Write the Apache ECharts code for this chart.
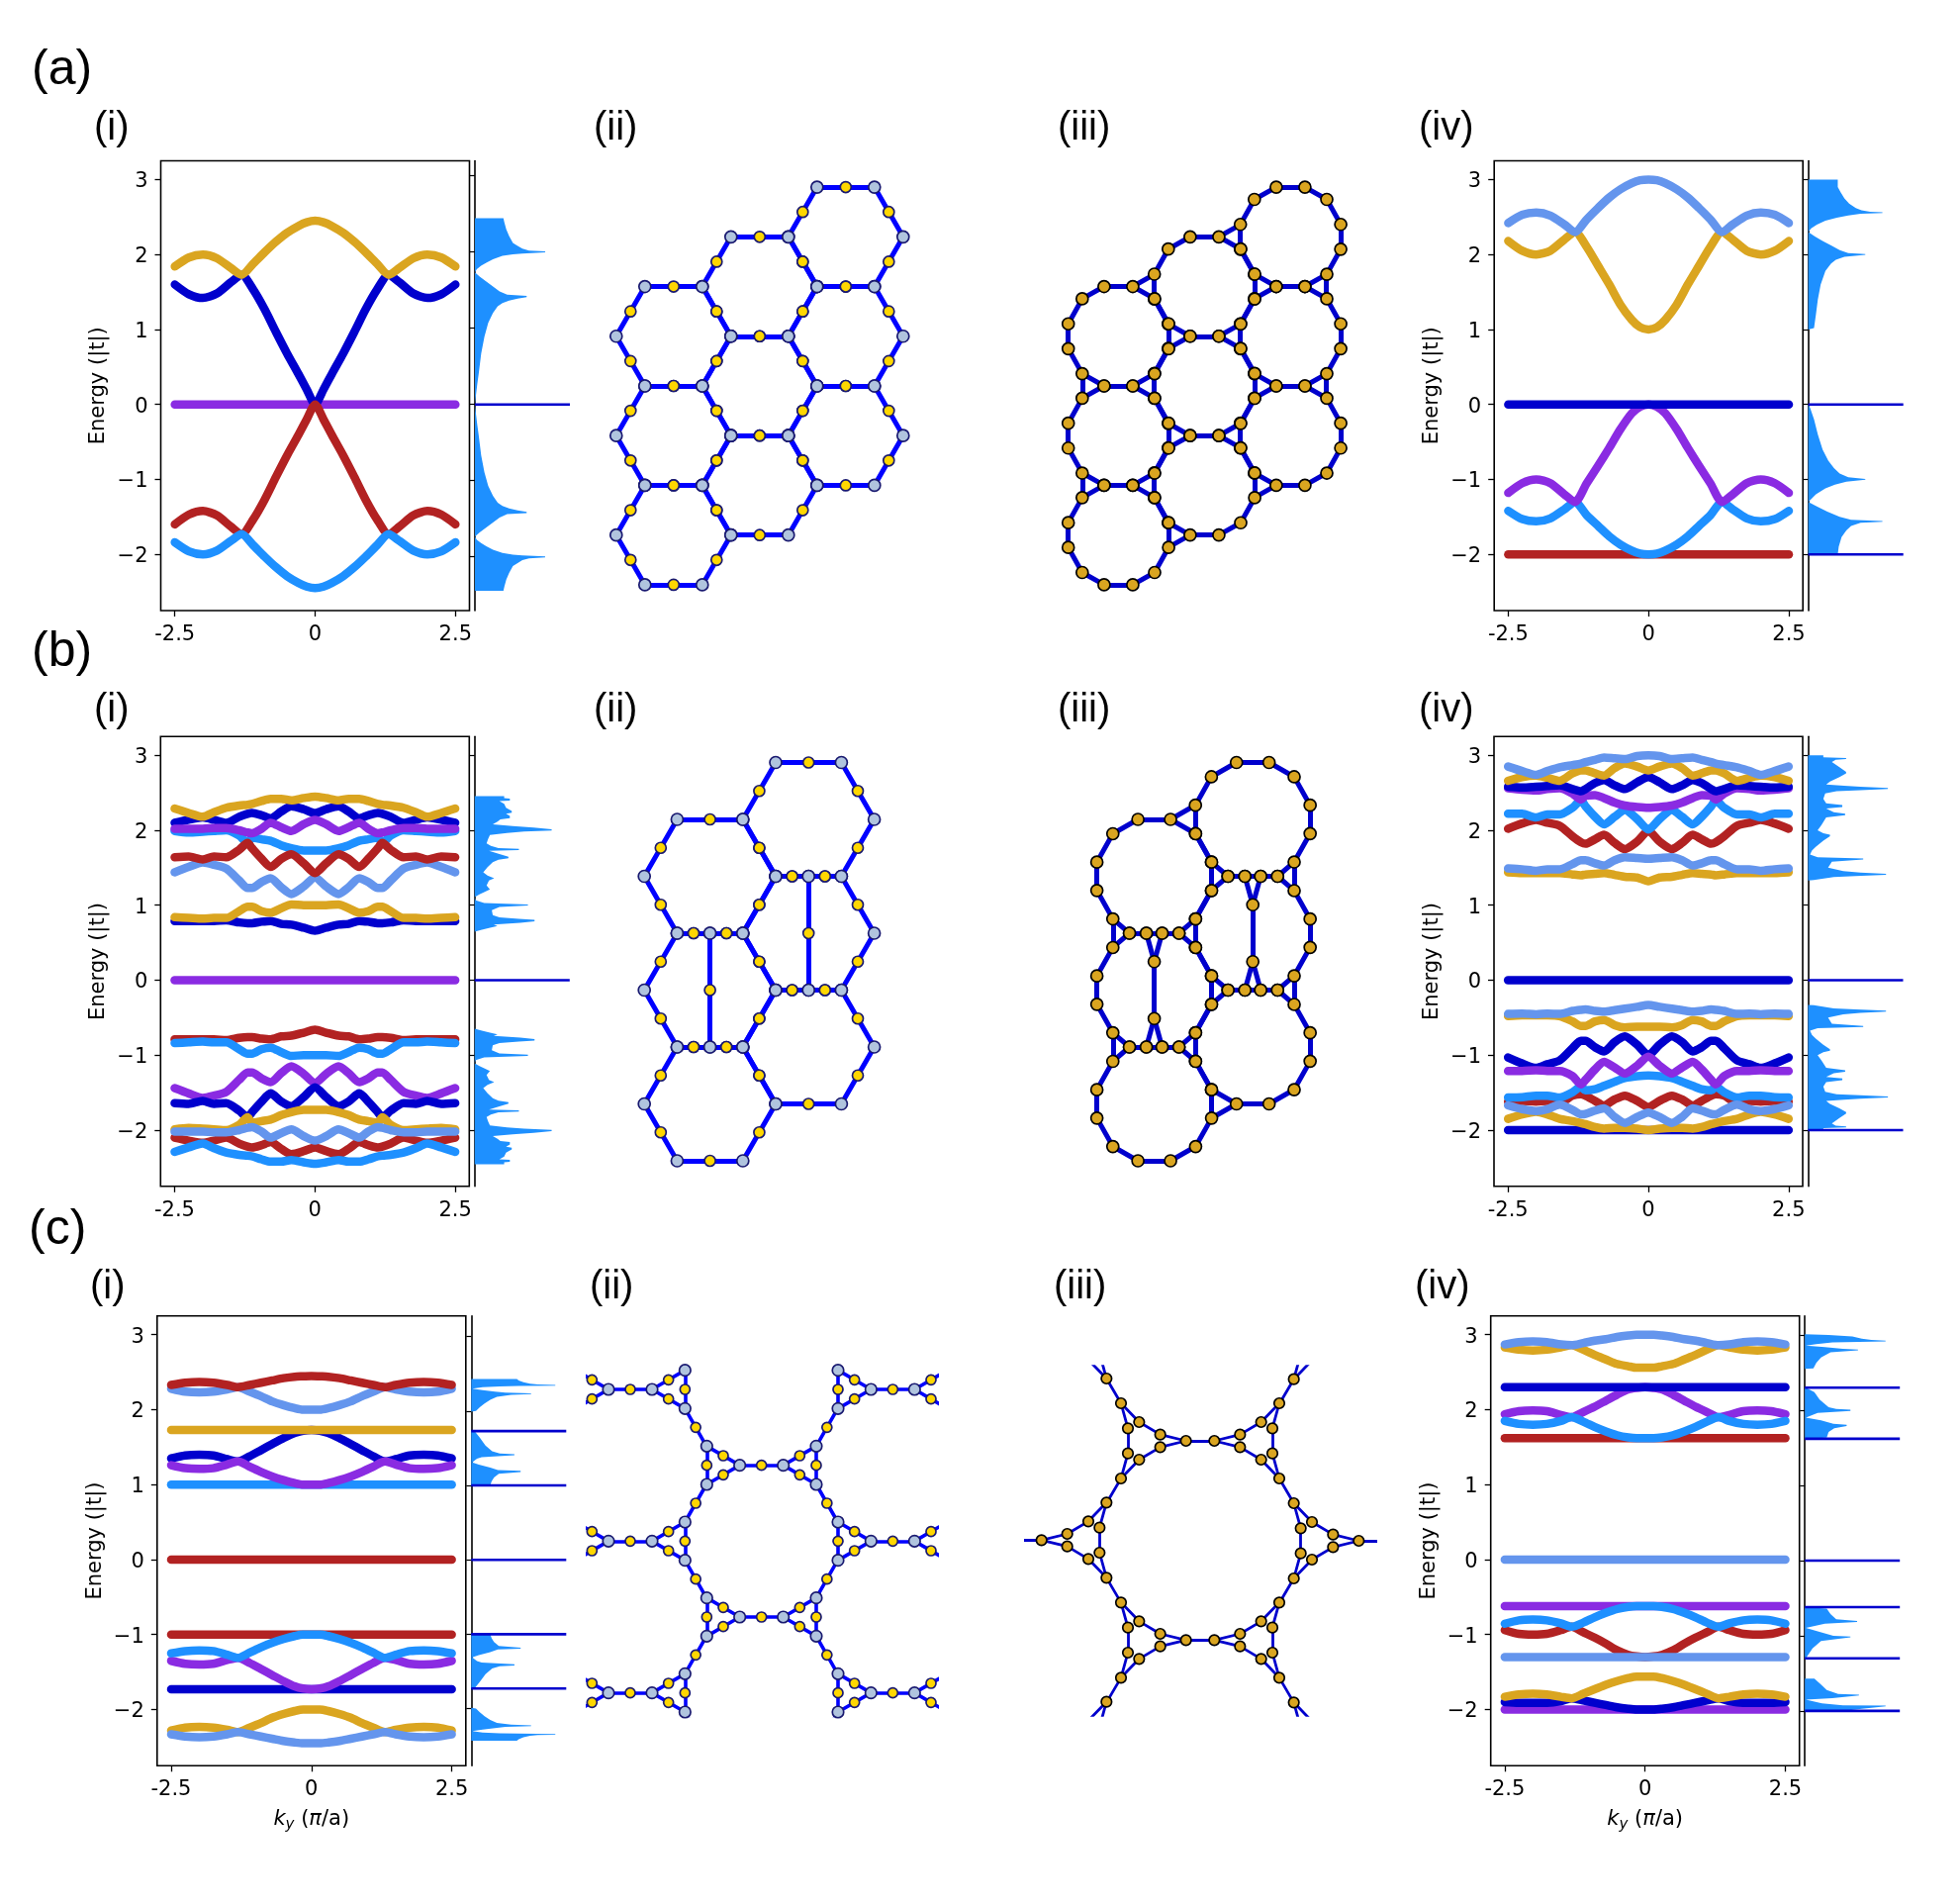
<!DOCTYPE html>
<html>
<head>
<meta charset="utf-8">
<title>Band structures and lattices</title>
<script src="https://cdn.jsdelivr.net/npm/echarts@6/dist/echarts.min.js"></script>
<style>
  html, body { margin: 0; background: #fff; }
  #chart { width: 1981px; height: 1924px; }
</style>
</head>
<body>
<div id="chart"></div>
<script>
// 坐标刻度
var kTicks = [-2.5, 0, 2.5];
var energyTicks = [-2, -1, 0, 1, 2, 3];

// k 取样点
var kFlat = [-2.5, 2.5];
var kA = [-2.5,-2.25,-2,-1.75,-1.5,-1.31,-1.1,-.9,-.7,-.5,-.3,-.15,0,.15,.3,.5,.7,.9,1.1,1.31,1.5,1.75,2,2.25,2.5];
var kB = [-2.5,-2.25,-2,-1.8,-1.58,-1.35,-1.2,-1.12,-.95,-.79,-.6,-.42,-.2,0,.2,.42,.6,.79,.95,1.12,1.2,1.35,1.58,1.8,2,2.25,2.5];

// 能带图的能量范围，部分态密度轴略有不同
var energyRange = [-2.75, 3.25];
var dosRangeAi = [-2.705, 3.198];
var dosRangeCi = [-2.767, 3.276];
var dosRangeCiv = [-2.729, 3.253];

// (a)(i)
var aiGold = [1.84,1.96,2,1.95,1.82,1.73,1.88,2.03,2.17,2.29,2.38,2.43,2.45,2.43,2.38,2.29,2.17,2.03,1.88,1.73,1.82,1.95,2,1.96,1.84];
var aiBlue = [1.6,1.47,1.42,1.48,1.63,1.73,1.53,1.27,.97,.68,.41,.2,0,.2,.41,.68,.97,1.27,1.53,1.73,1.63,1.48,1.42,1.47,1.6];
var aiPurple = [0, 0];
var aiRed = [-1.6,-1.47,-1.42,-1.48,-1.63,-1.73,-1.53,-1.27,-.97,-.68,-.41,-.2,0,-.2,-.41,-.68,-.97,-1.27,-1.53,-1.73,-1.63,-1.48,-1.42,-1.47,-1.6];
var aiDodger = [-1.84,-1.96,-2,-1.95,-1.82,-1.73,-1.88,-2.03,-2.17,-2.29,-2.38,-2.43,-2.45,-2.43,-2.38,-2.29,-2.17,-2.03,-1.88,-1.73,-1.82,-1.95,-2,-1.96,-1.84];
var aiDos = [[0,2.445],[.3,2.445],[.31,2.39],[.33,2.3],[.36,2.21],[.4,2.12],[.45,2.08],[.5,2.044],[.57,2.02],[.74,2.008],[.74,1.995],[.5,1.98],[.4,1.97],[.29,1.95],[.19,1.905],[.12,1.86],[.065,1.82],[.02,1.775],[0,1.735],[.05,1.68],[.12,1.615],[.19,1.55],[.26,1.485],[.34,1.44],[.545,1.425],[.545,1.41],[.45,1.39],[.36,1.365],[.29,1.33],[.24,1.29],[.19,1.2],[.14,1.07],[.1,.89],[.066,.67],[.04,.405],[.025,.27],[0,.01],[0,-.01],[.025,-.27],[.04,-.405],[.066,-.67],[.1,-.89],[.14,-1.07],[.19,-1.2],[.24,-1.29],[.29,-1.33],[.36,-1.365],[.45,-1.39],[.545,-1.41],[.545,-1.425],[.34,-1.44],[.26,-1.485],[.19,-1.55],[.12,-1.615],[.05,-1.68],[0,-1.735],[.02,-1.775],[.065,-1.82],[.12,-1.86],[.19,-1.905],[.29,-1.95],[.4,-1.97],[.5,-1.98],[.74,-1.995],[.74,-2.008],[.57,-2.02],[.5,-2.044],[.45,-2.08],[.4,-2.12],[.36,-2.21],[.33,-2.3],[.31,-2.39],[.3,-2.445],[0,-2.445]];
var aiFlat = [0];

// (a)(iv)
var aivCorn = [2.42,2.53,2.56,2.52,2.4,2.3,2.47,2.62,2.76,2.87,2.95,2.99,3,2.99,2.95,2.87,2.76,2.62,2.47,2.3,2.4,2.52,2.56,2.53,2.42];
var aivGold = [2.18,2.05,2,2.05,2.2,2.3,2.1,1.85,1.6,1.33,1.13,1.03,1,1.03,1.13,1.33,1.6,1.85,2.1,2.3,2.2,2.05,2,2.05,2.18];
var aivBlue = [0, 0];
var aivPurple = [-1.18,-1.05,-1,-1.05,-1.2,-1.3,-1.05,-.82,-.58,-.33,-.12,-.03,0,-.03,-.12,-.33,-.58,-.82,-1.05,-1.3,-1.2,-1.05,-1,-1.05,-1.18];
var aivDodger = [-1.42,-1.53,-1.56,-1.52,-1.4,-1.3,-1.48,-1.62,-1.76,-1.87,-1.95,-1.99,-2,-1.99,-1.95,-1.87,-1.76,-1.62,-1.48,-1.3,-1.4,-1.52,-1.56,-1.53,-1.42];
var aivRed = [-2, -2];
var aivDos = [[0,3],[.31,3],[.31,2.9],[.34,2.83],[.38,2.75],[.43,2.68],[.5,2.62],[.56,2.59],[.65,2.57],[.78,2.565],[.78,2.555],[.55,2.545],[.42,2.52],[.3,2.49],[.18,2.45],[.09,2.4],[.03,2.35],[0,2.3],[.07,2.24],[.15,2.18],[.24,2.12],[.33,2.06],[.42,2.02],[.6,2.005],[.6,1.995],[.38,1.97],[.29,1.93],[.24,1.88],[.18,1.78],[.13,1.6],[.1,1.4],[.08,1.2],[.06,1.02],[0,1],[0,0],[.02,-.05],[.06,-.2],[.1,-.4],[.15,-.6],[.21,-.75],[.27,-.85],[.33,-.92],[.42,-.97],[.6,-.995],[.6,-1.005],[.4,-1.03],[.28,-1.07],[.18,-1.12],[.08,-1.2],[0,-1.3],[.09,-1.36],[.2,-1.43],[.33,-1.5],[.45,-1.54],[.78,-1.555],[.78,-1.565],[.55,-1.58],[.45,-1.62],[.4,-1.68],[.35,-1.77],[.32,-1.9],[.31,-2],[0,-2]];
var aivFlat = [0, -2];

// (b)(i)
var biGoldU = [2.29,2.23,2.18,2.24,2.3,2.33,2.34,2.35,2.39,2.42,2.42,2.4,2.43,2.45,2.43,2.4,2.42,2.42,2.39,2.35,2.34,2.33,2.3,2.24,2.18,2.23,2.29];
var biBlueU = [2.1,2.14,2.17,2.14,2.1,2.18,2.22,2.23,2.2,2.16,2.25,2.32,2.28,2.23,2.28,2.32,2.25,2.16,2.2,2.23,2.22,2.18,2.1,2.14,2.17,2.14,2.1];
var biPurpleU = [2.02,2.02,2.02,2.03,2.03,2,1.97,1.96,2.02,2.1,2.04,1.99,2.08,2.14,2.08,1.99,2.04,2.1,2.02,1.96,1.97,2,2.03,2.03,2.02,2.02,2.02];
var biDodgerU = [1.99,1.97,1.98,1.99,2,1.93,1.83,1.9,1.88,1.86,1.8,1.76,1.73,1.73,1.73,1.76,1.8,1.86,1.88,1.9,1.83,1.93,2,1.99,1.98,1.97,1.99];
var biRedU = [1.64,1.65,1.61,1.65,1.64,1.74,1.83,1.76,1.62,1.51,1.62,1.68,1.56,1.43,1.56,1.68,1.62,1.51,1.62,1.76,1.83,1.74,1.64,1.65,1.61,1.65,1.64];
var biCornU = [1.44,1.51,1.57,1.54,1.49,1.33,1.23,1.23,1.31,1.36,1.24,1.15,1.25,1.37,1.25,1.15,1.24,1.36,1.31,1.23,1.23,1.33,1.49,1.54,1.57,1.51,1.44];
var biGoldM = [.84,.83,.82,.83,.83,.92,.98,.98,.92,.9,.96,1.01,1,1,1,1.01,.96,.9,.92,.98,.98,.92,.83,.83,.82,.83,.84];
var biBlueM = [.79,.79,.79,.79,.8,.77,.76,.76,.78,.79,.75,.74,.7,.66,.7,.74,.75,.79,.78,.76,.76,.77,.8,.79,.79,.79,.79];
var biPurple0 = [0, 0];
var biRedL = [-.79,-.79,-.79,-.79,-.8,-.77,-.76,-.76,-.78,-.79,-.75,-.74,-.7,-.66,-.7,-.74,-.75,-.79,-.78,-.76,-.76,-.77,-.8,-.79,-.79,-.79,-.79];
var biDodgerL = [-.84,-.83,-.82,-.83,-.83,-.92,-.98,-.98,-.92,-.9,-.96,-1.01,-1,-1,-1,-1.01,-.96,-.9,-.92,-.98,-.98,-.92,-.83,-.83,-.82,-.83,-.84];
var biPurpleL = [-1.44,-1.51,-1.57,-1.54,-1.49,-1.33,-1.23,-1.23,-1.31,-1.36,-1.24,-1.15,-1.25,-1.37,-1.25,-1.15,-1.24,-1.36,-1.31,-1.23,-1.23,-1.33,-1.49,-1.54,-1.57,-1.51,-1.44];
var biBlueL = [-1.64,-1.65,-1.61,-1.65,-1.64,-1.74,-1.83,-1.76,-1.62,-1.51,-1.62,-1.68,-1.56,-1.43,-1.56,-1.68,-1.62,-1.51,-1.62,-1.76,-1.83,-1.74,-1.64,-1.65,-1.61,-1.65,-1.64];
var biGoldL = [-1.99,-1.97,-1.98,-1.99,-2,-1.93,-1.83,-1.9,-1.88,-1.86,-1.8,-1.76,-1.73,-1.73,-1.73,-1.76,-1.8,-1.86,-1.88,-1.9,-1.83,-1.93,-2,-1.99,-1.98,-1.97,-1.99];
var biCornL = [-2.02,-2.02,-2.02,-2.03,-2.03,-2,-1.97,-1.96,-2.02,-2.1,-2.04,-1.99,-2.08,-2.14,-2.08,-1.99,-2.04,-2.1,-2.02,-1.96,-1.97,-2,-2.03,-2.03,-2.02,-2.02,-2.02];
var biRedB = [-2.1,-2.14,-2.17,-2.14,-2.1,-2.18,-2.22,-2.23,-2.2,-2.16,-2.25,-2.32,-2.28,-2.23,-2.28,-2.32,-2.25,-2.16,-2.2,-2.23,-2.22,-2.18,-2.1,-2.14,-2.17,-2.14,-2.1];
var biDodgerB = [-2.29,-2.23,-2.18,-2.24,-2.3,-2.33,-2.34,-2.35,-2.39,-2.42,-2.42,-2.4,-2.43,-2.45,-2.43,-2.4,-2.42,-2.42,-2.39,-2.35,-2.34,-2.33,-2.3,-2.24,-2.18,-2.23,-2.29];
var biDos = [[0,2.454],[.31,2.454],[.31,2.43],[.37,2.423],[.37,2.396],[.26,2.388],[.31,2.352],[.33,2.3],[.39,2.256],[.39,2.233],[.33,2.22],[.37,2.19],[.37,2.16],[.27,2.145],[.24,2.115],[.19,2.08],[.4,2.057],[.62,2.035],[.81,2.012],[.81,1.996],[.52,1.982],[.34,1.965],[.16,1.938],[.14,1.881],[.125,1.824],[.17,1.793],[.25,1.762],[.465,1.752],[.465,1.736],[.15,1.727],[.26,1.683],[.355,1.648],[.355,1.626],[.25,1.608],[.19,1.573],[.135,1.507],[.09,1.44],[.135,1.396],[.205,1.361],[.15,1.33],[.125,1.264],[.16,1.211],[.1,1.176],[.05,1.145],[0,1.11],[.01,1.066],[.1,1.03],[.56,1.009],[.56,.995],[.26,.978],[.18,.934],[.19,.868],[.26,.837],[.465,.819],[.63,.805],[.63,.784],[.48,.767],[.2,.744],[.24,.722],[.15,.696],[.065,.67],[0,.648],[0,-.648],[.065,-.67],[.15,-.696],[.24,-.722],[.2,-.744],[.48,-.767],[.63,-.784],[.63,-.805],[.465,-.819],[.26,-.837],[.19,-.868],[.18,-.934],[.26,-.978],[.56,-.995],[.56,-1.009],[.1,-1.03],[.01,-1.066],[0,-1.11],[.05,-1.145],[.1,-1.176],[.16,-1.211],[.125,-1.264],[.15,-1.33],[.205,-1.361],[.135,-1.396],[.09,-1.44],[.135,-1.507],[.19,-1.573],[.25,-1.608],[.355,-1.626],[.355,-1.648],[.26,-1.683],[.15,-1.727],[.465,-1.736],[.465,-1.752],[.25,-1.762],[.17,-1.793],[.125,-1.824],[.14,-1.881],[.16,-1.938],[.34,-1.965],[.52,-1.982],[.81,-1.996],[.81,-2.012],[.62,-2.035],[.4,-2.057],[.19,-2.08],[.24,-2.115],[.27,-2.145],[.37,-2.16],[.37,-2.19],[.33,-2.22],[.39,-2.233],[.39,-2.256],[.33,-2.3],[.31,-2.352],[.26,-2.388],[.37,-2.396],[.37,-2.423],[.31,-2.43],[.31,-2.454],[0,-2.454]];
var biFlat = [0];

// (b)(iv)
var bivCornU = [2.85,2.79,2.74,2.79,2.84,2.87,2.89,2.91,2.94,2.97,2.96,2.95,2.99,3,2.99,2.95,2.96,2.97,2.94,2.91,2.89,2.87,2.84,2.79,2.74,2.79,2.85];
var bivGoldU = [2.66,2.71,2.73,2.7,2.66,2.76,2.8,2.8,2.76,2.73,2.83,2.89,2.85,2.8,2.85,2.89,2.83,2.73,2.76,2.8,2.8,2.76,2.66,2.7,2.73,2.71,2.66];
var bivBlueU = [2.58,2.57,2.58,2.59,2.6,2.55,2.52,2.55,2.63,2.67,2.6,2.55,2.64,2.71,2.64,2.55,2.6,2.67,2.63,2.55,2.52,2.55,2.6,2.59,2.58,2.57,2.58];
var bivPurpleU = [2.56,2.54,2.53,2.55,2.56,2.49,2.41,2.46,2.47,2.43,2.37,2.33,2.31,2.3,2.31,2.33,2.37,2.43,2.47,2.46,2.41,2.49,2.56,2.55,2.53,2.54,2.56];
var bivDodgerU = [2.22,2.22,2.17,2.21,2.21,2.3,2.4,2.32,2.18,2.08,2.18,2.27,2.15,2.01,2.15,2.27,2.18,2.08,2.18,2.32,2.4,2.3,2.21,2.21,2.17,2.22,2.22];
var bivRedU = [2.02,2.09,2.14,2.1,2.06,1.92,1.84,1.82,1.88,1.94,1.83,1.75,1.85,1.99,1.85,1.75,1.83,1.94,1.88,1.82,1.84,1.92,2.06,2.1,2.14,2.09,2.02];
var bivCornM = [1.49,1.48,1.46,1.48,1.48,1.55,1.6,1.6,1.56,1.53,1.6,1.64,1.63,1.62,1.63,1.64,1.6,1.53,1.56,1.6,1.6,1.55,1.48,1.48,1.46,1.48,1.49];
var bivGoldM = [1.44,1.43,1.43,1.43,1.43,1.41,1.4,1.41,1.42,1.43,1.405,1.38,1.37,1.32,1.37,1.38,1.405,1.43,1.42,1.41,1.4,1.41,1.43,1.43,1.43,1.43,1.44];
var bivBlue0 = [0, 0];
var bivCornL = [-.45,-.445,-.455,-.445,-.45,-.41,-.395,-.39,-.41,-.42,-.4,-.38,-.355,-.33,-.355,-.38,-.4,-.42,-.41,-.39,-.395,-.41,-.45,-.445,-.455,-.445,-.45];
var bivGoldL = [-.48,-.47,-.47,-.47,-.48,-.55,-.61,-.61,-.55,-.53,-.6,-.63,-.62,-.62,-.62,-.63,-.6,-.53,-.55,-.61,-.61,-.55,-.48,-.47,-.47,-.47,-.48];
var bivBlueL = [-1.03,-1.11,-1.17,-1.12,-1.07,-.905,-.81,-.81,-.895,-.95,-.825,-.75,-.86,-1,-.86,-.75,-.825,-.95,-.895,-.81,-.81,-.905,-1.07,-1.12,-1.17,-1.11,-1.03];
var bivPurpleL = [-1.21,-1.21,-1.2,-1.21,-1.21,-1.28,-1.39,-1.33,-1.19,-1.09,-1.165,-1.245,-1.14,-1.02,-1.14,-1.245,-1.165,-1.09,-1.19,-1.33,-1.39,-1.28,-1.21,-1.21,-1.2,-1.21,-1.21];
var bivDodgerL = [-1.565,-1.56,-1.54,-1.54,-1.565,-1.495,-1.42,-1.47,-1.455,-1.41,-1.355,-1.305,-1.28,-1.27,-1.28,-1.305,-1.355,-1.41,-1.455,-1.47,-1.42,-1.495,-1.565,-1.54,-1.54,-1.56,-1.565];
var bivRedL = [-1.62,-1.61,-1.62,-1.61,-1.635,-1.54,-1.52,-1.54,-1.61,-1.67,-1.59,-1.54,-1.61,-1.69,-1.61,-1.54,-1.59,-1.67,-1.61,-1.54,-1.52,-1.54,-1.635,-1.61,-1.62,-1.61,-1.62];
var bivCornB = [-1.67,-1.72,-1.745,-1.72,-1.66,-1.73,-1.79,-1.785,-1.74,-1.71,-1.825,-1.905,-1.825,-1.765,-1.825,-1.905,-1.825,-1.71,-1.74,-1.785,-1.79,-1.73,-1.66,-1.72,-1.745,-1.72,-1.67];
var bivGoldB = [-1.85,-1.79,-1.755,-1.79,-1.85,-1.88,-1.905,-1.92,-1.96,-1.98,-1.97,-1.97,-1.98,-2,-1.98,-1.97,-1.97,-1.98,-1.96,-1.92,-1.905,-1.88,-1.85,-1.79,-1.755,-1.79,-1.85];
var bivBlueB = [-2, -2];
var bivDos = [[0,3],[.16,3],[.16,2.975],[.4,2.965],[.4,2.95],[.29,2.94],[.25,2.91],[.33,2.84],[.4,2.78],[.4,2.76],[.33,2.71],[.23,2.65],[.19,2.61],[.38,2.595],[.55,2.58],[.84,2.565],[.84,2.55],[.55,2.535],[.3,2.52],[.18,2.49],[.16,2.42],[.19,2.36],[.36,2.335],[.36,2.31],[.19,2.29],[.27,2.24],[.39,2.22],[.39,2.2],[.19,2.17],[.14,2.07],[.1,2],[.16,1.96],[.23,1.94],[.23,1.92],[.16,1.86],[.08,1.78],[.04,1.73],[.02,1.675],[.1,1.64],[.58,1.625],[.58,1.61],[.25,1.58],[.21,1.5],[.37,1.455],[.55,1.435],[.82,1.42],[.82,1.405],[.5,1.39],[.27,1.375],[.06,1.335],[0,1.33],[0,-.33],[.06,-.335],[.27,-.375],[.5,-.39],[.82,-.405],[.82,-.42],[.55,-.435],[.37,-.455],[.21,-.5],[.25,-.58],[.58,-.61],[.58,-.625],[.1,-.64],[.02,-.675],[.04,-.73],[.08,-.78],[.16,-.86],[.23,-.92],[.23,-.94],[.16,-.96],[.1,-1],[.14,-1.07],[.19,-1.17],[.39,-1.2],[.39,-1.22],[.27,-1.24],[.19,-1.29],[.36,-1.31],[.36,-1.335],[.19,-1.36],[.16,-1.42],[.18,-1.49],[.3,-1.52],[.55,-1.535],[.84,-1.55],[.84,-1.565],[.55,-1.58],[.38,-1.595],[.19,-1.61],[.23,-1.65],[.33,-1.71],[.4,-1.76],[.4,-1.78],[.33,-1.84],[.25,-1.91],[.29,-1.94],[.4,-1.95],[.4,-1.965],[.16,-1.975],[.16,-2],[0,-2]];
var bivFlat = [0, -2];

// (c)(i)
var ciRedT = [2.33,2.36,2.37,2.36,2.33,2.3,2.33,2.36,2.39,2.42,2.44,2.445,2.45,2.445,2.44,2.42,2.39,2.36,2.33,2.3,2.33,2.36,2.37,2.36,2.33];
var ciCornT = [2.28,2.24,2.23,2.24,2.27,2.3,2.24,2.18,2.11,2.06,2.02,2,2,2,2.02,2.06,2.11,2.18,2.24,2.3,2.27,2.24,2.23,2.24,2.28];
var ciGoldF = [1.73, 1.73];
var ciBlueU = [1.35,1.39,1.4,1.39,1.34,1.31,1.38,1.46,1.54,1.62,1.69,1.72,1.73,1.72,1.69,1.62,1.54,1.46,1.38,1.31,1.34,1.39,1.4,1.39,1.35];
var ciPurpleU = [1.26,1.22,1.21,1.22,1.27,1.31,1.24,1.17,1.11,1.06,1.02,1,1,1,1.02,1.06,1.11,1.17,1.24,1.31,1.27,1.22,1.21,1.22,1.26];
var ciDodgerF = [1, 1];
var ciRed0 = [0, 0];
var ciRedF = [-1, -1];
var ciDodgerL = [-1.25,-1.22,-1.21,-1.22,-1.27,-1.31,-1.24,-1.17,-1.11,-1.06,-1.02,-1,-1,-1,-1.02,-1.06,-1.11,-1.17,-1.24,-1.31,-1.27,-1.22,-1.21,-1.22,-1.25];
var ciPurpleL = [-1.35,-1.39,-1.4,-1.39,-1.34,-1.31,-1.38,-1.46,-1.54,-1.62,-1.69,-1.72,-1.73,-1.72,-1.69,-1.62,-1.54,-1.46,-1.38,-1.31,-1.34,-1.39,-1.4,-1.39,-1.35];
var ciBlueF = [-1.73, -1.73];
var ciGoldB = [-2.28,-2.24,-2.23,-2.24,-2.27,-2.3,-2.24,-2.18,-2.11,-2.06,-2.02,-2,-2,-2,-2.02,-2.06,-2.11,-2.18,-2.24,-2.3,-2.27,-2.24,-2.23,-2.24,-2.28];
var ciCornB = [-2.33,-2.36,-2.37,-2.36,-2.33,-2.3,-2.33,-2.36,-2.39,-2.42,-2.44,-2.45,-2.45,-2.45,-2.44,-2.42,-2.39,-2.36,-2.33,-2.3,-2.33,-2.36,-2.37,-2.36,-2.33];
var ciDos = [[0,2.43],[.48,2.43],[.5,2.41],[.55,2.385],[.62,2.365],[.7,2.355],[.885,2.35],[.885,2.34],[.5,2.335],[.3,2.33],[.12,2.32],[.01,2.3],[.12,2.28],[.25,2.26],[.36,2.245],[.63,2.235],[.63,2.225],[.42,2.215],[.27,2.19],[.2,2.15],[.14,2.1],[.09,2.05],[.05,2],[0,1.99],[0,1.73],[.04,1.72],[.09,1.64],[.15,1.535],[.22,1.46],[.3,1.43],[.455,1.42],[.455,1.405],[.11,1.38],[.06,1.36],[.01,1.31],[.08,1.28],[.2,1.24],[.28,1.205],[.52,1.195],[.52,1.18],[.29,1.157],[.24,1.106],[.215,1.055],[.2,1],[0,1],[0,-1],[.2,-1],[.215,-1.055],[.24,-1.106],[.29,-1.157],[.52,-1.18],[.52,-1.195],[.28,-1.205],[.2,-1.24],[.08,-1.28],[.01,-1.31],[.06,-1.36],[.11,-1.38],[.455,-1.405],[.455,-1.42],[.3,-1.43],[.22,-1.46],[.15,-1.535],[.09,-1.64],[.04,-1.72],[0,-1.73],[0,-1.99],[.05,-2],[.09,-2.05],[.14,-2.1],[.2,-2.15],[.27,-2.19],[.42,-2.215],[.63,-2.225],[.63,-2.235],[.36,-2.245],[.25,-2.26],[.12,-2.28],[.01,-2.3],[.12,-2.32],[.3,-2.33],[.5,-2.335],[.885,-2.34],[.885,-2.35],[.7,-2.355],[.62,-2.365],[.55,-2.385],[.5,-2.41],[.48,-2.43],[0,-2.43]];
var ciFlat = [1.73, 1, 0, -1, -1.73];

// (c)(iv)
var civCornT = [2.87,2.9,2.91,2.9,2.87,2.86,2.89,2.92,2.94,2.97,2.99,3,3,3,2.99,2.97,2.94,2.92,2.89,2.86,2.87,2.9,2.91,2.9,2.87];
var civGoldT = [2.83,2.8,2.79,2.8,2.83,2.86,2.8,2.73,2.67,2.61,2.58,2.56,2.56,2.56,2.58,2.61,2.67,2.73,2.8,2.86,2.83,2.8,2.79,2.8,2.83];
var civBlueF = [2.3, 2.3];
var civPurpleU = [1.94,1.98,1.99,1.98,1.93,1.9,1.97,2.04,2.12,2.2,2.27,2.29,2.3,2.29,2.27,2.2,2.12,2.04,1.97,1.9,1.93,1.98,1.99,1.98,1.94];
var civDodgerU = [1.85,1.81,1.8,1.81,1.85,1.9,1.84,1.77,1.71,1.66,1.63,1.62,1.62,1.62,1.63,1.66,1.71,1.77,1.84,1.9,1.85,1.81,1.8,1.81,1.85];
var civRedF = [1.62, 1.62];
var civCorn0 = [0, 0];
var civPurpleF = [-.62, -.62];
var civDodgerL = [-.855,-.81,-.8,-.81,-.85,-.895,-.84,-.77,-.71,-.66,-.63,-.62,-.62,-.62,-.63,-.66,-.71,-.77,-.84,-.895,-.85,-.81,-.8,-.81,-.855];
var civRedL = [-.94,-.99,-1,-.99,-.94,-.895,-.97,-1.04,-1.12,-1.21,-1.27,-1.29,-1.3,-1.29,-1.27,-1.21,-1.12,-1.04,-.97,-.895,-.94,-.99,-1,-.99,-.94];
var civCornF = [-1.3, -1.3];
var civGoldB = [-1.83,-1.8,-1.79,-1.8,-1.83,-1.85,-1.79,-1.73,-1.67,-1.62,-1.58,-1.56,-1.56,-1.56,-1.58,-1.62,-1.67,-1.73,-1.79,-1.85,-1.83,-1.8,-1.79,-1.8,-1.83];
var civBlueB = [-1.9,-1.91,-1.91,-1.91,-1.89,-1.85,-1.88,-1.91,-1.94,-1.97,-1.99,-2,-2,-2,-1.99,-1.97,-1.94,-1.91,-1.88,-1.85,-1.89,-1.91,-1.91,-1.91,-1.9];
var civPurpleB = [-2, -2];
var civDos = [[0,3.01],[.25,3],[.5,2.98],[.6,2.95],[.7,2.935],[.85,2.925],[.85,2.915],[.29,2.9],[.12,2.88],[.01,2.86],[.21,2.84],[.4,2.815],[.56,2.805],[.56,2.795],[.27,2.77],[.17,2.7],[.12,2.63],[.09,2.555],[0,2.55],[0,2.3],[.01,2.3],[.1,2.24],[.155,2.14],[.25,2.04],[.33,2.015],[.48,2.005],[.48,1.99],[.135,1.965],[.01,1.9],[.17,1.865],[.3,1.82],[.44,1.805],[.44,1.79],[.31,1.76],[.25,1.71],[.23,1.635],[0,1.62],[0,-.62],[.23,-.64],[.27,-.71],[.33,-.78],[.55,-.805],[.55,-.815],[.21,-.84],[.01,-.895],[.1,-.93],[.3,-1.0],[.48,-1.01],[.48,-1.02],[.17,-1.07],[.08,-1.17],[.01,-1.3],[0,-1.3],[0,-1.57],[.1,-1.57],[.17,-1.65],[.23,-1.72],[.35,-1.775],[.57,-1.785],[.57,-1.795],[.29,-1.83],[.01,-1.85],[.18,-1.9],[.4,-1.925],[.85,-1.93],[.85,-1.94],[.6,-1.97],[.4,-2],[0,-2]];
var civFlat = [2.3, 1.62, 0, -.62, -1.3, -2];

// 晶格元胞
var hexCellsA = [[0,0],[0,1],[0,2],[1,0],[1,1],[1,2],[2,0],[2,1],[2,2]];
var hexCellsB = [[0,0],[0,1],[0,2],[1,0],[1,1],[1,2]];
var rodCellsB = [[0,1],[1,1]];
var closuresA = [[-1,1,8,9],[-1,2,8,9],[3,0,2,3],[3,1,2,3],[1,-1,4,5],[2,-1,4,5],[0,3,10,11],[1,3,10,11]];
var closuresB = [[-1,1,8,9],[-1,2,8,9],[2,0,2,3],[2,1,2,3],[1,-1,4,5],[0,3,10,11]];

var GOLD = "#DAA520", BLUE = "#0000CD", PURPLE = "#8A2BE2", RED = "#B22222", DODGER = "#1E90FF", CORN = "#6495ED";

var option = {
  animation: false,
  backgroundColor: "#fff",
  grid: [],
  xAxis: [],
  yAxis: [],
  series: [],
  graphic: []
};

function eLabel(v) {
  return v < 0 ? "\u2212" + Math.abs(v) : "" + v;
}

// 能带图 + 右侧态密度
function addBandPanel(left, top, bands, dos, flats, showName, dosRange) {
  var idx = option.grid.length;
  option.grid.push({ left: left, top: top, width: 312, height: 454.5, show: true, borderColor: "#000", borderWidth: 1.6, backgroundColor: "transparent" });
  option.xAxis.push({
    gridIndex: idx, type: "value", min: -2.75, max: 2.75,
    axisLine: { show: false, onZero: false }, splitLine: { show: false },
    axisTick: { customValues: kTicks, length: 6, lineStyle: { color: "#000", width: 1.3 } },
    axisLabel: { customValues: kTicks, color: "#000", fontSize: 21, fontFamily: "DejaVu Sans", margin: 14, formatter: function (v) { return "" + v; } },
    name: showName ? "{i|k}{s|y} ({i|\u03c0}/a)" : "",
    nameLocation: "middle", nameGap: 42,
    nameTextStyle: { color: "#000", fontSize: 21, fontFamily: "DejaVu Sans", rich: {
      i: { fontSize: 21, fontStyle: "italic", fontFamily: "DejaVu Sans", color: "#000" },
      s: { fontSize: 15, fontStyle: "italic", fontFamily: "DejaVu Sans", color: "#000", padding: [10, 0, 0, 0] }
    } }
  });
  option.yAxis.push({
    gridIndex: idx, type: "value", min: energyRange[0], max: energyRange[1],
    axisLine: { show: false, onZero: false }, splitLine: { show: false },
    axisTick: { customValues: energyTicks, length: 6, lineStyle: { color: "#000", width: 1.3 } },
    axisLabel: { customValues: energyTicks, color: "#000", fontSize: 21, fontFamily: "DejaVu Sans", margin: 13, verticalAlign: "top", lineHeight: 5, formatter: eLabel },
    name: "Energy (|t|)", nameLocation: "middle", nameGap: 52,
    nameTextStyle: { color: "#000", fontSize: 21, fontFamily: "DejaVu Sans" }
  });
  bands.forEach(function (b) {
    option.series.push({
      type: "line", xAxisIndex: idx, yAxisIndex: idx, showSymbol: false, symbol: "none", silent: true,
      smooth: b[0].length > 2 ? 0.25 : false,
      lineStyle: { color: b[2], width: 8.5, cap: "round", join: "round" },
      data: b[0].map(function (k, i) { return [k, b[1][i]]; })
    });
  });

  var h = idx + 1;
  option.grid.push({ left: left + 317.5, top: top, width: 96, height: 454.5 });
  option.xAxis.push({ gridIndex: h, type: "value", min: 0, max: 1, show: false });
  option.yAxis.push({
    gridIndex: h, type: "value", min: dosRange[0], max: dosRange[1],
    axisLine: { show: true, onZero: false, lineStyle: { color: "#000", width: 1.6 } },
    splitLine: { show: false },
    axisTick: { customValues: energyTicks, length: 5, lineStyle: { color: "#000", width: 1.2 } },
    axisLabel: { show: false }
  });
  option.series.push({
    type: "custom", xAxisIndex: h, yAxisIndex: h, silent: true, clip: false,
    encode: { x: 0, y: 1 },
    data: dos,
    renderItem: function (params, api) {
      if (params.dataIndex !== 0) return;
      return {
        type: "polygon",
        shape: { points: dos.map(function (p) { return api.coord(p); }) },
        style: { fill: DODGER }
      };
    }
  });
  flats.forEach(function (e) {
    option.series.push({
      type: "line", xAxisIndex: h, yAxisIndex: h, showSymbol: false, symbol: "none", silent: true,
      lineStyle: { color: BLUE, width: 2.6 }, z: 3,
      data: [[0, e], [1, e]]
    });
  });
}

// 晶格图，隐藏坐标轴，单位由 scale 换算成像素
function addLattice(ox, oy, scale, xr, yr, model, style) {
  var idx = option.grid.length;
  option.grid.push({ left: ox + xr[0] * scale, top: oy + yr[0] * scale, width: (xr[1] - xr[0]) * scale, height: (yr[1] - yr[0]) * scale });
  option.xAxis.push({ gridIndex: idx, type: "value", min: xr[0], max: xr[1], show: false });
  option.yAxis.push({ gridIndex: idx, type: "value", min: yr[0], max: yr[1], inverse: true, show: false });
  option.series.push({
    type: "lines", coordinateSystem: "cartesian2d", xAxisIndex: idx, yAxisIndex: idx, silent: true, clip: true,
    lineStyle: { color: style.line, width: style.width, opacity: 1, cap: "round" },
    data: model.edges.map(function (e) { return { coords: e }; })
  });
  option.series.push({
    type: "scatter", xAxisIndex: idx, yAxisIndex: idx, silent: true, clip: true, z: 4,
    symbolSize: style.hubSize,
    itemStyle: { color: style.hub, borderColor: style.border, borderWidth: 1.7, opacity: 1 },
    data: model.hubs
  });
  if (model.mids.length) {
    option.series.push({
      type: "scatter", xAxisIndex: idx, yAxisIndex: idx, silent: true, clip: true, z: 5,
      symbolSize: style.midSize,
      itemStyle: { color: style.mid, borderColor: style.border, borderWidth: 1.7, opacity: 1 },
      data: model.mids
    });
  }
}

function center(cell, h) {
  return [-1.5 * cell[0], h * (cell[1] + cell[0] / 2)];
}
function hasCell(list, c, r) {
  return list.some(function (x) { return x[0] === c && x[1] === r; });
}

// 六边形：格点 + 边中点
function buildHex(cells, h, rods) {
  var m = { edges: [], hubs: [], mids: [] };
  cells.forEach(function (cell) {
    var o = center(cell, h);
    var c = cell[0], r = cell[1];
    var topRod = hasCell(rods, c, r) || hasCell(rods, c, r - 1);
    var botRod = hasCell(rods, c, r) || hasCell(rods, c, r + 1);
    var v = [[.5, -h / 2], [1, 0], [.5, h / 2], [-.5, h / 2], [-1, 0], [-.5, -h / 2]].map(function (p) {
      return [o[0] + p[0], o[1] + p[1]];
    });
    v.forEach(function (p, i) {
      var q = v[(i + 1) % 6];
      var mid = [(p[0] + q[0]) / 2, (p[1] + q[1]) / 2];
      m.hubs.push(p);
      m.edges.push([p, q]);
      if ((i === 2 && botRod) || (i === 5 && topRod)) {
        m.hubs.push(mid);
        m.mids.push([mid[0] - .25, mid[1]], [mid[0] + .25, mid[1]]);
      } else {
        m.mids.push(mid);
      }
    });
    if (hasCell(rods, c, r)) {
      m.mids.push(o);
      m.edges.push([[o[0], o[1] - h / 2], [o[0], o[1] + h / 2]]);
    }
  });
  return m;
}

// 十二边形环
function ringPts(cell, h, off, topWide, botWide) {
  var o = center(cell, h);
  var xT = topWide ? .377 : off[0], xB = botWide ? .377 : off[0];
  return [[xT, -h / 2], [off[1], -off[2]], [off[3], -off[4]], [off[3], off[4]], [off[1], off[2]], [xB, h / 2],
          [-xB, h / 2], [-off[1], off[2]], [-off[3], off[4]], [-off[3], -off[4]], [-off[1], -off[2]], [-xT, -h / 2]]
    .map(function (p) { return [o[0] + p[0], o[1] + p[1]]; });
}
function buildRings(cells, h, off, rods, closures) {
  var m = { edges: [], hubs: [], mids: [] };
  cells.forEach(function (cell) {
    var c = cell[0], r = cell[1];
    var topRod = hasCell(rods, c, r) || hasCell(rods, c, r - 1);
    var botRod = hasCell(rods, c, r) || hasCell(rods, c, r + 1);
    var pts = ringPts(cell, h, off, topRod, botRod);
    var o = center(cell, h);
    pts.forEach(function (p, i) {
      m.hubs.push(p);
      m.edges.push([p, pts[(i + 1) % 12]]);
    });
    if (topRod) m.hubs.push([o[0] - .12, o[1] - h / 2], [o[0] + .12, o[1] - h / 2]);
    if (botRod) m.hubs.push([o[0] - .12, o[1] + h / 2], [o[0] + .12, o[1] + h / 2]);
    if (hasCell(rods, c, r)) {
      var a = [o[0], o[1] - .433], b = [o[0], o[1] + .433];
      m.hubs.push(a, b);
      m.edges.push([a, b]);
      [-.12, .12].forEach(function (dx) {
        m.edges.push([[o[0] + dx, o[1] - h / 2], a]);
        m.edges.push([[o[0] + dx, o[1] + h / 2], b]);
      });
    }
  });
  closures.forEach(function (g) {
    var pts = ringPts([g[0], g[1]], h, off, false, false);
    m.edges.push([pts[g[2]], pts[g[3]]]);
  });
  return m;
}

// (c)(ii)：三角形节点的周期排布
function buildStar() {
  var m = { edges: [], hubs: [], mids: [] };
  function link(p, q) {
    m.edges.push([p, q]);
    m.mids.push([(p[0] + q[0]) / 2, (p[1] + q[1]) / 2]);
  }
  function tri(apex, dx) {
    var b1 = [apex[0] + dx, apex[1] - 58], b2 = [apex[0] + dx, apex[1] + 58];
    m.hubs.push(apex, b1, b2);
    link(apex, b1);
    link(apex, b2);
    link(b1, b2);
  }
  for (var n = -1; n <= 1; n++) {
    for (var j = -2; j <= 2; j++) {
      var p = [665 + 398 * n, 362 + 230 * n + 460 * j];
      var q = [p[0] - 132, p[1]];
      tri(p, 100);
      tri(q, -100);
      link(p, q);
      link([p[0] + 100, p[1] - 58], [p[0] + 165, p[1] - 172]);
      link([p[0] + 100, p[1] + 58], [p[0] + 165, p[1] + 172]);
    }
  }
  return m;
}

// (c)(iii)
var motifPts = [[0,0],[-78,-19],[-78,19],[-142,-57],[-142,57],[-176,-38],[-176,38],[-197,-114],[-197,114]];
var motifEdges = [[0,1],[0,2],[1,3],[2,4],[3,7],[4,8],[5,7],[6,8],[5,6]];
function buildSquid() {
  var m = { edges: [], hubs: [], mids: [] };
  function motif(p, sign) {
    var pts = motifPts.map(function (d) { return [p[0] + sign * d[0], p[1] + d[1]]; });
    pts.forEach(function (x) { m.hubs.push(x); });
    motifEdges.forEach(function (e) { m.edges.push([pts[e[0]], pts[e[1]]]); });
    return pts;
  }
  for (var n = -1; n <= 1; n++) {
    for (var j = -2; j <= 2; j++) {
      var p = [536 + 524 * n, 288 + 303 * n + 604 * j];
      var R = motif(p, 1);
      var L = motif([p[0] + 86, p[1]], -1);
      m.edges.push([R[0], L[0]]);
      m.edges.push([R[8], [p[0] - 438 + 197, p[1] + 303 - 114]]);
      m.edges.push([R[7], [p[0] - 438 + 197, p[1] - 303 + 114]]);
    }
  }
  return m;
}

function txt(s, x, y, size) {
  option.graphic.push({ type: "text", x: x, y: y, silent: true, style: { text: s, fill: "#000", font: size + 'px "Liberation Sans"', textVerticalAlign: "middle" } });
}

// 能带面板
addBandPanel(162.5, 162.5, [
  [kFlat, aiPurple, PURPLE], [kA, aiBlue, BLUE], [kA, aiGold, GOLD], [kA, aiRed, RED], [kA, aiDodger, DODGER]
], aiDos, aiFlat, false, dosRangeAi);
addBandPanel(1510.2, 162.5, [
  [kFlat, aivRed, RED], [kA, aivDodger, DODGER], [kA, aivPurple, PURPLE], [kFlat, aivBlue, BLUE], [kA, aivGold, GOLD], [kA, aivCorn, CORN]
], aivDos, aivFlat, false, energyRange);
addBandPanel(162.3, 744.3, [
  [kB, biBlueU, BLUE], [kB, biDodgerU, DODGER], [kB, biPurpleU, PURPLE], [kB, biGoldU, GOLD], [kB, biCornU, CORN], [kB, biRedU, RED],
  [kB, biBlueM, BLUE], [kB, biGoldM, GOLD], [kFlat, biPurple0, PURPLE], [kB, biRedL, RED], [kB, biDodgerL, DODGER],
  [kB, biPurpleL, PURPLE], [kB, biBlueL, BLUE], [kB, biGoldL, GOLD], [kB, biRedB, RED], [kB, biCornL, CORN], [kB, biDodgerB, DODGER]
], biDos, biFlat, false, energyRange);
addBandPanel(1510, 744.3, [
  [kB, bivRedU, RED], [kB, bivDodgerU, DODGER], [kB, bivPurpleU, PURPLE], [kB, bivBlueU, BLUE], [kB, bivGoldU, GOLD], [kB, bivCornU, CORN],
  [kB, bivGoldM, GOLD], [kB, bivCornM, CORN], [kFlat, bivBlue0, BLUE], [kB, bivGoldL, GOLD], [kB, bivCornL, CORN],
  [kB, bivRedL, RED], [kB, bivDodgerL, DODGER], [kB, bivBlueL, BLUE], [kB, bivPurpleL, PURPLE],
  [kFlat, bivBlueB, BLUE], [kB, bivGoldB, GOLD], [kB, bivCornB, CORN]
], bivDos, bivFlat, false, energyRange);
addBandPanel(158.8, 1329.8, [
  [kA, ciCornT, CORN], [kA, ciRedT, RED], [kA, ciBlueU, BLUE], [kFlat, ciGoldF, GOLD], [kFlat, ciDodgerF, DODGER], [kA, ciPurpleU, PURPLE],
  [kFlat, ciRed0, RED], [kFlat, ciRedF, RED], [kFlat, ciBlueF, BLUE], [kA, ciPurpleL, PURPLE], [kA, ciDodgerL, DODGER], [kA, ciGoldB, GOLD], [kA, ciCornB, CORN]
], ciDos, ciFlat, true, dosRangeCi);
addBandPanel(1506.7, 1329.8, [
  [kA, civGoldT, GOLD], [kA, civCornT, CORN], [kA, civPurpleU, PURPLE], [kFlat, civBlueF, BLUE], [kFlat, civRedF, RED], [kA, civDodgerU, DODGER],
  [kFlat, civCorn0, CORN], [kA, civRedL, RED], [kFlat, civPurpleF, PURPLE], [kA, civDodgerL, DODGER], [kFlat, civCornF, CORN],
  [kFlat, civPurpleB, PURPLE], [kA, civBlueB, BLUE], [kA, civGoldB, GOLD]
], civDos, civFlat, true, dosRangeCiv);

// 晶格面板
var styleSteel = { line: "#0000FF", width: 5, hub: "#B0C4DE", mid: "#FFD700", border: "#191970", hubSize: 12, midSize: 11 };
var styleGold = { line: BLUE, width: 5, hub: GOLD, mid: GOLD, border: "#000", hubSize: 12, midSize: 12 };
var hA = 1.732, hB = 1.732;
addLattice(854.8, 239.3, 58, [-4.4, 1.4], [-1.1, 6.3], buildHex(hexCellsA, hA, []), styleSteel);
addLattice(1304.4, 239.3, 58, [-4.4, 1.4], [-1.1, 6.3], buildRings(hexCellsA, hA, [.25, .631, .652, .874, .216], [], closuresA), styleGold);
addLattice(817.2, 828, 66.4, [-2.9, 1.4], [-1.1, 6], buildHex(hexCellsB, hB, rodCellsB), styleSteel);
addLattice(1266.2, 828, 66.4, [-2.9, 1.4], [-1.1, 6], buildRings(hexCellsB, hB, [.248, .63, .648, .873, .216], rodCellsB, closuresB), styleGold);
addLattice(570, 1360, 1 / 3, [73, 1130], [66, 1120], buildStar(), { line: "#0000FF", width: 3.6, hub: "#B0C4DE", mid: "#FFD700", border: "#191970", hubSize: 11.5, midSize: 10 });
addLattice(1020, 1360, 1 / 3, [50, 1108], [62, 1120], buildSquid(), { line: BLUE, width: 2.8, hub: GOLD, mid: GOLD, border: "#000", hubSize: 10.5, midSize: 10.5 });

// 面板标题
txt("(a)", 32, 71, 50);
txt("(b)", 32, 659, 50);
txt("(c)", 29, 1243, 50);
[["(i)", 95], ["(ii)", 600], ["(iii)", 1069], ["(iv)", 1434]].forEach(function (t) {
  txt(t[0], t[1], 130, 40);
  txt(t[0], t[1], 718, 40);
  txt(t[0], t[1] - 4, 1301, 40);
});

var myChart = echarts.init(document.getElementById("chart"), null, { renderer: "canvas" });
myChart.setOption(option);
</script>
</body>
</html>
